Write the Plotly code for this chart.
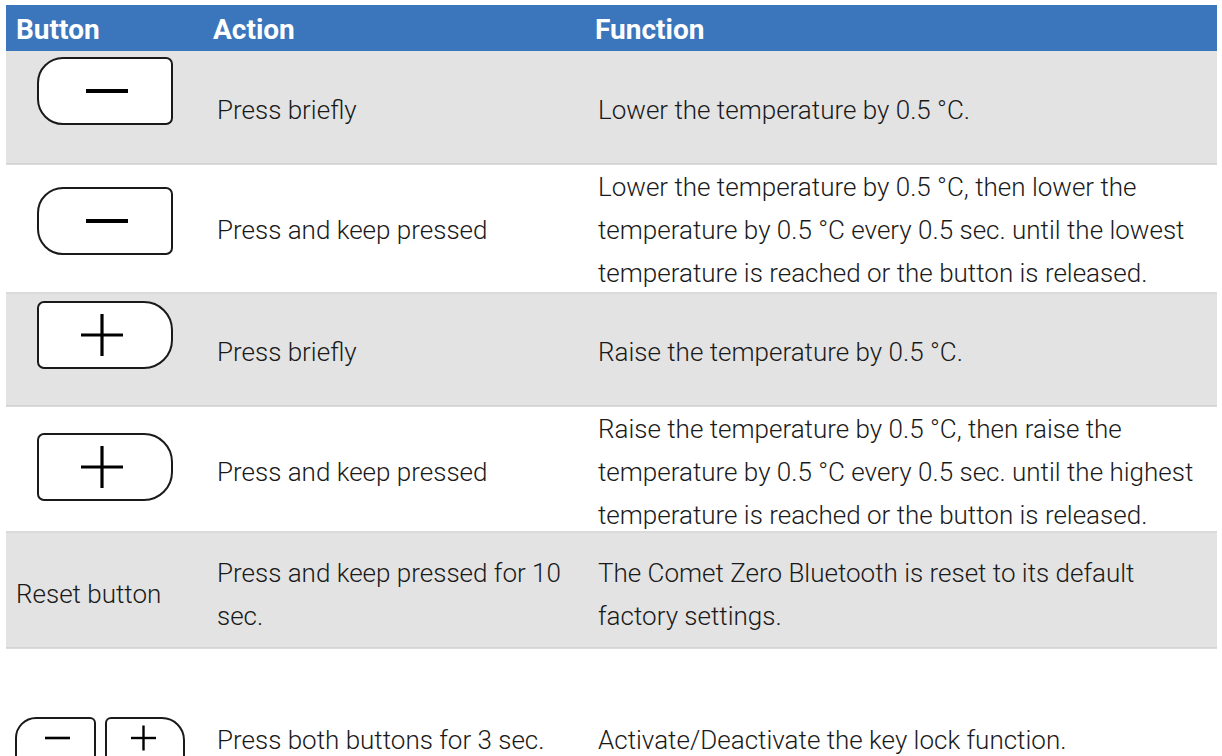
import plotly.graph_objects as go

# ---------------- data ----------------
header_labels = ["Button", "Action", "Function"]
button_kinds = ["minus", "minus", "plus", "plus", "reset", "both"]
button_labels = ["", "", "", "", "Reset button", ""]
action_lines = [
    ["Press briefly"],
    ["Press and keep pressed"],
    ["Press briefly"],
    ["Press and keep pressed"],
    ["Press and keep pressed for 10", "sec."],
    ["Press both buttons for 3 sec."],
]
function_lines = [
    ["Lower the temperature by 0.5 °C."],
    ["Lower the temperature by 0.5 °C, then lower the",
     "temperature by 0.5 °C every 0.5 sec. until the lowest",
     "temperature is reached or the button is released."],
    ["Raise the temperature by 0.5 °C."],
    ["Raise the temperature by 0.5 °C, then raise the",
     "temperature by 0.5 °C every 0.5 sec. until the highest",
     "temperature is reached or the button is released."],
    ["The Comet Zero Bluetooth is reset to its default",
     "factory settings."],
    ["Activate/Deactivate the key lock function."],
]

# ---------------- layout geometry (pixels) ----------------
W, H = 1222, 756
TABLE_X0, TABLE_X1 = 6, 1217
HEADER_Y = (5, 51)
ROW_BOUNDS = [(51, 164), (165, 293), (294, 406), (407, 532), (533, 648), (649, 800)]
ROW_FILL = ["#E3E3E3", "#FFFFFF", "#E3E3E3", "#FFFFFF", "#E3E3E3", None]
COL_X = [14, 215, 596]
HEADER_X = [14, 211, 593]
LINE_GAP = 43
TEXT_CENTER = [110, 230, 352, 472, 594, 740]
BTN_CENTER = [91, 221, 335, 467]
BORDER = "#CFCFCF"
BLUE = "#3B76BC"
INK = "#1A1A1A"
FONT = "Roboto"
BODY_SIZE = 26
K = 0.5523


def rounded_path(x0, y0, x1, y1, tl, tr, br, bl):
    return (
        f"M {x0+tl},{y0} L {x1-tr},{y0} "
        f"C {x1-tr+K*tr},{y0} {x1},{y0+tr-K*tr} {x1},{y0+tr} "
        f"L {x1},{y1-br} "
        f"C {x1},{y1-br+K*br} {x1-br+K*br},{y1} {x1-br},{y1} "
        f"L {x0+bl},{y1} "
        f"C {x0+bl-K*bl},{y1} {x0},{y1-bl+K*bl} {x0},{y1-bl} "
        f"L {x0},{y0+tl} "
        f"C {x0},{y0+tl-K*tl} {x0+tl-K*tl},{y0} {x0+tl},{y0} Z"
    )


shapes = []
annotations = []

# header band
shapes.append(dict(type="rect", x0=TABLE_X0, x1=TABLE_X1, y0=HEADER_Y[0], y1=HEADER_Y[1],
                   fillcolor=BLUE, line=dict(width=0), layer="below"))
for lbl, x in zip(header_labels, HEADER_X):
    annotations.append(dict(x=x, y=(HEADER_Y[0] + HEADER_Y[1]) / 2 + 1, text=f"<b>{lbl}</b>",
                            xanchor="left", yanchor="middle", showarrow=False,
                            font=dict(family=FONT, size=28, color="white")))

# row bands and borders
for (y0, y1), fill in zip(ROW_BOUNDS, ROW_FILL):
    if fill is None:
        continue
    shapes.append(dict(type="rect", x0=TABLE_X0, x1=TABLE_X1, y0=y0, y1=y1,
                       fillcolor=fill, line=dict(width=0), layer="below"))
    shapes.append(dict(type="line", x0=TABLE_X0, x1=TABLE_X1, y0=y1, y1=y1,
                       line=dict(color=BORDER, width=1.5), layer="below"))


def add_button(kind, x0, y0, x1, y1, big, small, sign_half, sign_w, cy=None, dx=0):
    if kind == "minus":
        p = rounded_path(x0, y0, x1, y1, big, small, small, big)
    else:
        p = rounded_path(x0, y0, x1, y1, small, big, big, small)
    shapes.append(dict(type="path", path=p, fillcolor="white",
                       line=dict(color=INK, width=2)))
    cx = (x0 + x1) / 2 + dx
    if cy is None:
        cy = (y0 + y1) / 2
    shapes.append(dict(type="line", x0=cx - sign_half, x1=cx + sign_half, y0=cy, y1=cy,
                       line=dict(color="black", width=sign_w)))
    if kind == "plus":
        shapes.append(dict(type="line", x0=cx, x1=cx, y0=cy - sign_half, y1=cy + sign_half,
                           line=dict(color="black", width=sign_w)))


for i, kind in enumerate(button_kinds):
    if kind == "minus":
        c = BTN_CENTER[i]
        add_button(kind, 38, c - 33, 172, c + 33, 25, 6, 21, 3.8, dx=2)
    elif kind == "plus":
        c = BTN_CENTER[i]
        add_button(kind, 38, c - 33, 172, c + 33, 28, 6, 21, 3.2, dx=-3)
    elif kind == "both":
        add_button("minus", 16, 718, 95, 790, 20, 5, 12.5, 2.6, cy=738, dx=2)
        add_button("plus", 106, 718, 184, 790, 22, 5, 12.5, 2.4, cy=738, dx=-1.5)

# texts
body_font = dict(family=FONT, size=BODY_SIZE, color=INK, weight=300)
for i in range(len(button_kinds)):
    c = TEXT_CENTER[i]
    if button_labels[i]:
        annotations.append(dict(x=COL_X[0], y=c, text=button_labels[i], xanchor="left",
                                yanchor="middle", showarrow=False, font=body_font))
    for lines, x in ((action_lines[i], COL_X[1]), (function_lines[i], COL_X[2])):
        n = len(lines)
        for j, t in enumerate(lines):
            y = c + (j - (n - 1) / 2) * LINE_GAP
            annotations.append(dict(x=x, y=y, text=t, xanchor="left", yanchor="middle",
                                    showarrow=False, font=body_font))

fig = go.Figure()
fig.update_layout(
    width=W, height=H, margin=dict(l=0, r=0, t=0, b=0),
    paper_bgcolor="white", plot_bgcolor="white",
    xaxis=dict(range=[0, W], visible=False, fixedrange=True),
    yaxis=dict(range=[H, 0], visible=False, fixedrange=True),
    shapes=shapes, annotations=annotations, showlegend=False,
)
fig.write_html(
    "out.html",
    config=dict(displayModeBar=False),
    post_script="document.body.style.margin='0';document.body.style.overflow='hidden';",
)
